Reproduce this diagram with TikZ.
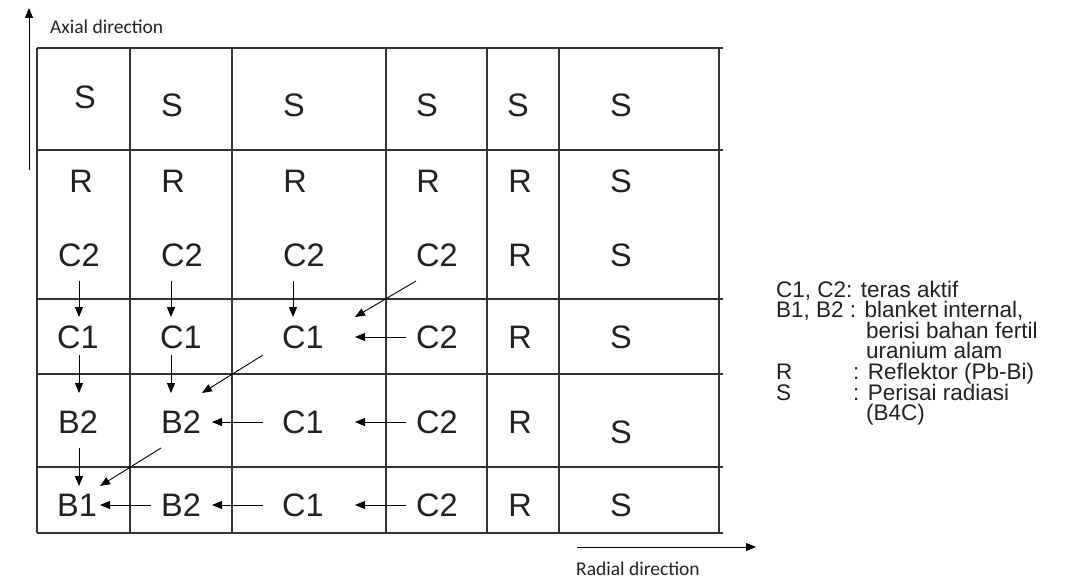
\documentclass[tikz,border=0pt]{standalone}
\usepackage{fontspec}
\setmainfont{Liberation Sans}
\newfontfamily\legfont{Liberation Sans}
\newfontfamily\dirfont{Carlito}
\usetikzlibrary{calc,arrows.meta}
\begin{document}
\begin{tikzpicture}[x=1pt,y=-1pt,
 grid/.style={draw=black!80, line width=1.2pt},
 cell/.style={font=\fontsize{32.5}{36}\selectfont, text=black!87, inner sep=0pt},
 arr/.style={-{Triangle[length=10pt,width=8pt]}, line width=0.9pt, draw=black},
 leg/.style={font=\legfont\fontsize{22.5}{20}\selectfont, anchor=base west, inner sep=0pt, text=black!87},
 dir/.style={font=\dirfont\fontsize{19.5}{22}\selectfont, inner sep=0pt, anchor=base west, text=black!87}]
\useasboundingbox (0,0) rectangle (1075,578);
% grid
\foreach \y in {48,150,299,374,467,533} \draw[grid] (37,\y) -- (723,\y);
\foreach \x in {37,130,232,386,487,559,719} \draw[grid] (\x,48) -- (\x,533);
% row S
\node[cell] (sa) at (85,97) {S};
\node[cell] (sb) at (172,105) {S};
\node[cell] (sc) at (294,105) {S};
\node[cell] (sd) at (427,105) {S};
\node[cell] (se) at (518,105) {S};
\node[cell] (sf) at (621,105) {S};
% row R
\node[cell] (ra) at (81,181) {R};
\node[cell] (rb) at (173,181) {R};
\node[cell] (rc) at (295,181) {R};
\node[cell] (rd) at (428,181) {R};
\node[cell] (re) at (520,181) {R};
\node[cell] (rf) at (621,181) {S};
% row C2
\node[cell] (ta) at (79,255) {C2};
\node[cell] (tb) at (182,255) {C2};
\node[cell] (tc) at (304,255) {C2};
\node[cell] (td) at (437,255) {C2};
\node[cell] (te) at (520,255) {R};
\node[cell] (tf) at (621,255) {S};
% row C1
\node[cell] (ua) at (78,337) {C1};
\node[cell] (ub) at (181,337) {C1};
\node[cell] (uc) at (303,337) {C1};
\node[cell] (ud) at (437,337) {C2};
\node[cell] (ue) at (520,337) {R};
\node[cell] (uf) at (621,337) {S};
% row B2
\node[cell] (va) at (78,422) {B2};
\node[cell] (vb) at (181,422) {B2};
\node[cell] (vc) at (303,422) {C1};
\node[cell] (vd) at (437,422) {C2};
\node[cell] (ve) at (520,422) {R};
\node[cell] (vf) at (621,432) {S};
% row B1
\node[cell] (wa) at (77,505) {B1};
\node[cell] (wb) at (181,505) {B2};
\node[cell] (wc) at (303,505) {C1};
\node[cell] (wd) at (437,505) {C2};
\node[cell] (we) at (520,505) {R};
\node[cell] (wf) at (621,505) {S};
% vertical arrows
\draw[arr] ($(ta)+(0,26)$) -- ($(ua)+(1,-20)$);
\draw[arr] ($(ua)+(1,18)$) -- ($(va)+(1,-29)$);
\draw[arr] ($(va)+(1,26)$) -- ($(wa)+(2,-19)$);
\draw[arr] ($(tb)+(-11,26)$) -- ($(ub)+(-10,-20)$);
\draw[arr] ($(ub)+(-10,18)$) -- ($(vb)+(-10,-29)$);
\draw[arr] ($(tc)+(-11,26)$) -- ($(uc)+(-10,-20)$);
% diagonal arrows
\draw[arr] ($(td)+(-21,26)$) -- ($(uc)+(52,-20)$);
\draw[arr] ($(uc)+(-40,18)$) -- ($(vb)+(21,-29)$);
\draw[arr] ($(vb)+(-20,26)$) -- ($(wa)+(23,-19)$);
% horizontal arrows
\draw[arr] ($(ud)+(-31,0)$) -- ($(uc)+(52,0)$);
\draw[arr] ($(vc)+(-40,0)$) -- ($(vb)+(31,0)$);
\draw[arr] ($(vd)+(-31,0)$) -- ($(vc)+(52,0)$);
\draw[arr] ($(wb)+(-30,0)$) -- ($(wa)+(23,0)$);
\draw[arr] ($(wc)+(-40,0)$) -- ($(wb)+(31,0)$);
\draw[arr] ($(wd)+(-31,0)$) -- ($(wc)+(52,0)$);
% direction arrows
\coordinate (axs) at (29,170);
\coordinate (axe) at (29,8);
\draw[arr] (axs) -- (axe);
\node[dir] (axt) at (50,34) {Axial direction};
\coordinate (rds) at (577,547);
\coordinate (rde) at (756,547);
\draw[arr] (rds) -- (rde);
\node[dir] (rdt) at (576,575) {Radial direction};
% legend
\node[leg] (l1) at (776,297) {C1, C2: teras aktif};
\node[leg] (l2) at (776,317.6) {B1, B2 : blanket internal,};
\node[leg] (l3) at (866,338.2) {berisi bahan fertil};
\node[leg] (l4) at (866,358.8) {uranium alam};
\node[leg] (l5) at (776,379.4) {R};
\node[leg] (l5b) at (853,379.4) {: Reflektor (Pb-Bi)};
\node[leg] (l6) at (776,400) {S};
\node[leg] (l6b) at (853,400) {: Perisai radiasi};
\node[leg] (l7) at (866,420.6) {(B4C)};
\end{tikzpicture}
\end{document}
